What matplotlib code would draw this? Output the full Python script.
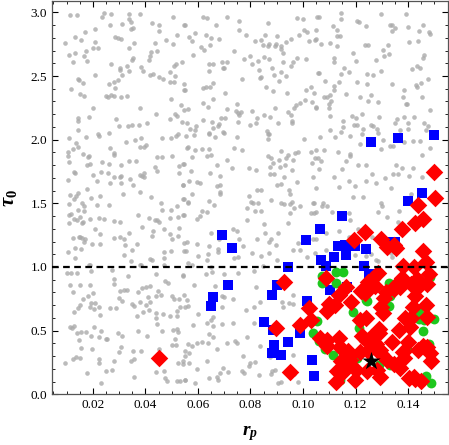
import numpy as np
import matplotlib
matplotlib.use("Agg")
import matplotlib.pyplot as plt
from matplotlib.ticker import MultipleLocator

plt.rcParams['font.family'] = ['Liberation Serif', 'DejaVu Serif']
plt.rcParams['mathtext.fontset'] = 'custom'
plt.rcParams['mathtext.it'] = 'Liberation Serif:italic:bold'
plt.rcParams['mathtext.rm'] = 'Liberation Serif:bold'

# background sample (r_p, tau_0)
gray_points = [
    # top left
    (0.0114,2.980),(0.0140,2.980),(0.0244,2.995),(0.0235,2.960),(0.0269,2.985),(0.0339,2.985),(0.0378,2.985),
    (0.0339,2.948),(0.0345,2.927),(0.0507,2.960),(0.0267,2.900),(0.0311,2.910),(0.0424,2.920),(0.0452,2.900),
    (0.0546,2.900),(0.0208,2.867),(0.0352,2.880),(0.0345,2.867),(0.0451,2.856),(0.0170,2.846),(0.0131,2.807),
    (0.0154,2.786),(0.0286,2.804),(0.0297,2.796),(0.0308,2.793),(0.0519,2.825),(0.0480,2.786),(0.0095,2.760),
    (0.0208,2.770),(0.0358,2.757),(0.0436,2.760),(0.0504,2.750),(0.0199,2.723),(0.0221,2.718),(0.0339,2.723),
    (0.0173,2.697),(0.0131,2.680),(0.0108,2.665),(0.0423,2.690),(0.0444,2.697),(0.0166,2.655),(0.0419,2.657),
    (0.0353,2.644),(0.0348,2.628),(0.0176,2.618),(0.0126,2.610),(0.0415,2.623),(0.0268,2.594),(0.0540,2.613),
    (0.0516,2.594),(0.0508,2.580),(0.0331,2.580),(0.0383,2.573),(0.0303,2.560),(0.0305,2.550),(0.0338,2.540),
    (0.0392,2.542),(0.0495,2.530),(0.0416,2.510),(0.0429,2.513),(0.0209,2.510),(0.0310,2.505),(0.0513,2.503),
    (0.0143,2.480),(0.0148,2.468),(0.0162,2.448),(0.0297,2.471),(0.0279,2.455),(0.0452,2.492),(0.0466,2.480),
    (0.0263,2.437),(0.0493,2.453),(0.0510,2.455),(0.0546,2.434),(0.0286,2.408),(0.0118,2.395),(0.0546,2.393),
    (0.0152,2.358),(0.0166,2.345),(0.0249,2.345),(0.0258,2.335),(0.0270,2.348),(0.0281,2.343),(0.0307,2.335),
    (0.0329,2.345),(0.0499,2.322),(0.0201,2.246),(0.0380,2.246),(0.0537,2.272),(0.0546,2.233),(0.0442,2.199),
    (0.0512,2.199),(0.0522,2.183),(0.0184,2.175),(0.0145,2.167),(0.0145,2.146),(0.0287,2.165),(0.0495,2.165),
    (0.0541,2.138),(0.0300,2.110),(0.0335,2.110),(0.0350,2.117),(0.0377,2.117),(0.0408,2.130),(0.0142,2.078),
    (0.0220,2.042),(0.0262,2.055),(0.0526,2.047),
    # top middle
    (0.0552,2.898),(0.0620,2.966),(0.0635,2.956),(0.0709,2.966),(0.0755,2.935),(0.0668,2.898),(0.0868,2.917),
    (0.0978,2.959),(0.0999,2.950),(0.1052,2.966),(0.0755,2.862),(0.1004,2.864),(0.1014,2.846),(0.1048,2.862),
    (0.0587,2.835),(0.0567,2.804),(0.0576,2.775),(0.0629,2.822),(0.0651,2.800),(0.0680,2.793),(0.0782,2.820),
    (0.0854,2.820),(0.0901,2.814),(0.0986,2.820),(0.0817,2.772),(0.0840,2.786),(0.0849,2.746),(0.0867,2.733),
    (0.0872,2.752),(0.0895,2.733),(0.0898,2.752),(0.0917,2.733),(0.0917,2.715),(0.0934,2.767),(0.0953,2.790),
    (0.1023,2.772),(0.1047,2.780),(0.0611,2.730),(0.0625,2.702),(0.0646,2.746),(0.0738,2.700),(0.0922,2.681),
    (0.0582,2.668),(0.0798,2.660),(0.0776,2.636),(0.0851,2.650),(0.0870,2.631),(0.0830,2.620),(0.0978,2.644),
    (0.1011,2.634),(0.0963,2.613),(0.0641,2.594),(0.0658,2.594),(0.0690,2.610),(0.0712,2.610),(0.0806,2.594),
    (0.0925,2.607),(0.0953,2.576),(0.0694,2.566),(0.0699,2.560),(0.0882,2.560),(0.0832,2.547),(0.0644,2.542),
    (0.0915,2.534),(0.0891,2.505),(0.0936,2.503),(0.0839,2.492),(0.0836,2.482),(0.1060,2.524),(0.0766,2.476),
    (0.0910,2.458),(0.0656,2.448),(0.0552,2.390),(0.0620,2.406),(0.0632,2.410),(0.0646,2.416),(0.0859,2.416),
    (0.1030,2.410),(0.1010,2.387),(0.0887,2.380),(0.0938,2.364),(0.0704,2.364),(0.0656,2.320),(0.1008,2.311),
    (0.0620,2.285),(0.0638,2.256),(0.0988,2.288),(0.0972,2.270),(0.1033,2.293),(0.0747,2.280),(0.0709,2.243),
    (0.1049,2.248),(0.0564,2.240),(0.0743,2.222),(0.0754,2.209),(0.0765,2.214),(0.0757,2.191),(0.0807,2.228),
    (0.0943,2.217),(0.0953,2.191),(0.0967,2.248),(0.0892,2.251),(0.0850,2.191),(0.0874,2.175),(0.0825,2.167),
    (0.0704,2.173),(0.0688,2.167),(0.0620,2.154),(0.0751,2.141),(0.0821,2.128),(0.0798,2.115),(0.0653,2.138),
    (0.0679,2.123),(0.0658,2.094),(0.0675,2.110),(0.0957,2.146),(0.0957,2.130),(0.0906,2.130),(0.0557,2.133),
    (0.0592,2.107),(0.0571,2.086),(0.0590,2.073),(0.0696,2.060),(0.0643,2.050),(0.0864,2.070),(0.0869,2.047),
    # top right
    (0.1060,2.966),(0.1146,2.993),(0.1146,2.948),(0.1296,2.985),(0.1393,2.985),(0.1114,2.893),(0.1131,2.862),
    (0.1131,2.817),(0.1139,2.814),(0.1207,2.932),(0.1213,2.922),(0.1239,2.896),(0.1330,2.900),(0.1339,2.900),
    (0.1349,2.875),(0.1339,2.851),(0.1401,2.888),(0.1455,2.900),(0.1441,2.854),(0.1481,2.846),(0.1483,2.828),
    (0.1048,2.791),(0.1069,2.749),(0.1104,2.757),(0.1128,2.738),(0.1234,2.741),(0.1249,2.744),(0.1323,2.741),
    (0.1304,2.707),(0.1405,2.767),(0.1437,2.778),(0.1189,2.681),(0.1202,2.620),(0.1117,2.642),(0.1118,2.610),
    (0.1307,2.660),(0.1326,2.676),(0.1277,2.628),(0.1462,2.662),(0.1457,2.642),(0.1433,2.581),(0.1414,2.555),
    (0.1446,2.560),(0.1154,2.563),(0.1174,2.529),(0.1144,2.518),(0.1057,2.526),(0.1244,2.518),(0.1266,2.505),
    (0.1296,2.542),(0.1474,2.476),(0.1085,2.463),(0.1135,2.453),(0.1206,2.453),(0.1245,2.440),(0.1338,2.440),
    (0.1431,2.432),(0.1450,2.442),(0.1433,2.416),(0.1118,2.419),(0.1118,2.393),(0.1385,2.393),(0.1042,2.364),
    (0.1164,2.361),(0.1257,2.353),(0.1080,2.332),(0.1090,2.332),(0.1102,2.348),(0.1216,2.335),(0.1380,2.332),
    (0.1451,2.338),(0.1108,2.304),(0.1249,2.301),(0.1287,2.296),(0.1390,2.283),(0.1397,2.277),(0.1098,2.277),
    (0.1100,2.248),(0.1048,2.254),(0.1485,2.235),(0.1103,2.186),(0.1187,2.188),(0.1203,2.170),(0.1226,2.199),
    (0.1288,2.178),(0.1357,2.165),(0.1384,2.180),(0.1423,2.180),(0.1152,2.146),(0.1194,2.117),(0.1207,2.115),
    (0.1260,2.117),(0.1267,2.110),(0.1351,2.128),(0.1400,2.133),(0.1461,2.130),(0.1474,2.110),(0.1152,2.102),
    (0.1102,2.078),(0.1145,2.062),(0.1230,2.083),(0.1281,2.083),(0.1368,2.078),(0.1401,2.083),(0.1469,2.073),
    # middle left
    (0.0109,2.012),(0.0175,2.020),(0.0222,2.030),(0.0328,1.978),(0.0359,1.994),(0.0383,2.015),(0.0465,2.015),
    (0.0498,2.012),(0.0516,2.030),(0.0136,1.975),(0.0126,1.923),(0.0142,1.939),(0.0104,1.905),(0.0105,1.871),
    (0.0110,1.821),(0.0267,1.936),(0.0279,1.897),(0.0282,1.881),(0.0378,1.941),(0.0394,1.941),(0.0404,1.957),
    (0.0164,1.884),(0.0180,1.865),(0.0187,1.871),(0.0179,1.800),(0.0190,1.810),(0.0235,1.826),(0.0260,1.810),
    (0.0309,1.800),(0.0339,1.831),(0.0366,1.829),(0.0443,1.860),(0.0465,1.860),(0.0503,1.871),(0.0527,1.792),
    (0.0546,1.805),(0.0436,1.784),(0.0444,1.750),(0.0529,1.737),(0.0129,1.747),(0.0131,1.742),(0.0199,1.726),
    (0.0232,1.747),(0.0258,1.740),(0.0279,1.705),(0.0305,1.705),(0.0308,1.713),(0.0104,1.687),(0.0215,1.674),
    (0.0264,1.661),(0.0307,1.656),(0.0342,1.690),(0.0353,1.645),(0.0378,1.726),(0.0386,1.713),(0.0395,1.737),
    (0.0396,1.705),(0.0545,1.640),(0.0178,1.614),(0.0115,1.567),(0.0142,1.582),(0.0136,1.561),(0.0128,1.535),
    (0.0192,1.540),(0.0226,1.554),(0.0315,1.577),(0.0378,1.590),(0.0421,1.548),(0.0546,1.530),(0.0109,1.491),
    (0.0157,1.499),(0.0165,1.478),(0.0145,1.451),(0.0216,1.486),(0.0263,1.488),(0.0460,1.504),(0.0465,1.449),
    (0.0496,1.451),(0.0522,1.475),(0.0108,1.412),(0.0118,1.417),(0.0127,1.373),(0.0140,1.370),(0.0110,1.344),
    (0.0151,1.391),(0.0165,1.438),(0.0159,1.344),(0.0162,1.354),(0.0190,1.373),(0.0225,1.386),(0.0241,1.373),
    (0.0282,1.362),(0.0305,1.354),(0.0371,1.407),(0.0414,1.383),(0.0436,1.368),(0.0446,1.370),(0.0453,1.352),
    (0.0494,1.381),(0.0526,1.396),(0.0546,1.409),(0.0208,1.299),(0.0227,1.258),(0.0389,1.310),(0.0430,1.284),
    (0.0424,1.247),(0.0470,1.302),(0.0529,1.307),(0.0494,1.255),(0.0503,1.216),(0.0524,1.245),(0.0546,1.190),
    (0.0124,1.231),(0.0147,1.239),(0.0151,1.234),(0.0159,1.231),(0.0171,1.216),(0.0165,1.195),(0.0195,1.182),
    (0.0229,1.179),(0.0279,1.226),(0.0303,1.239),(0.0320,1.216),(0.0336,1.263),(0.0321,1.174),(0.0369,1.179),
    (0.0104,1.116),(0.0133,1.148),(0.0154,1.140),(0.0132,1.072),(0.0350,1.134),(0.0320,1.095),(0.0470,1.121),
    (0.0498,1.124),(0.0547,1.127),(0.0470,1.072),(0.0419,1.064),(0.0427,1.051),(0.0344,1.043),(0.0383,1.019),
    (0.0185,1.019),(0.0469,1.014),
    # middle centre
    (0.0554,2.028),(0.0586,2.036),(0.0644,2.044),(0.0665,2.023),(0.0698,2.051),(0.0747,2.023),(0.0865,2.044),
    (0.0865,2.007),(0.1002,2.007),(0.0562,1.941),(0.0559,1.931),(0.0587,1.915),(0.0614,1.923),(0.0642,1.928),
    (0.0738,1.931),(0.0769,1.920),(0.0916,1.910),(0.0944,1.881),(0.0971,1.892),(0.0982,1.905),(0.1030,1.902),
    (0.1051,1.920),(0.0578,1.865),(0.0633,1.873),(0.0649,1.878),(0.0712,1.844),(0.0867,1.871),(0.0877,1.855),
    (0.0910,1.839),(0.0936,1.852),(0.0961,1.844),(0.0544,1.805),(0.0671,1.797),(0.0728,1.774),(0.0794,1.779),
    (0.0822,1.761),(0.0887,1.813),(0.0873,1.782),(0.0914,1.782),(0.0932,1.797),(0.0957,1.761),(0.1033,1.818),
    (0.0572,1.753),(0.0646,1.740),(0.0684,1.711),(0.0874,1.732),(0.0889,1.729),(0.0928,1.708),(0.1037,1.703),
    (0.0567,1.674),(0.0597,1.671),(0.0608,1.656),(0.0544,1.640),(0.0671,1.635),(0.0684,1.643),(0.0900,1.640),
    (0.0916,1.648),(0.0977,1.666),(0.0578,1.572),(0.0684,1.588),(0.0684,1.575),(0.0825,1.603),(0.0841,1.603),
    (0.0945,1.603),(0.0950,1.575),(0.0795,1.554),(0.0802,1.509),(0.0809,1.499),(0.0828,1.504),(0.0878,1.527),
    (0.0915,1.499),(0.0926,1.493),(0.0950,1.491),(0.0958,1.514),(0.0988,1.475),(0.1039,1.506),(0.0544,1.530),
    (0.0562,1.514),(0.0564,1.501),(0.0641,1.522),(0.0661,1.486),(0.0615,1.438),(0.0608,1.404),(0.0595,1.375),
    (0.0633,1.433),(0.0544,1.410),(0.0787,1.467),(0.0817,1.441),(0.0841,1.441),(0.0964,1.462),(0.0949,1.425),
    (0.1029,1.420),(0.1041,1.420),(0.0785,1.370),(0.0853,1.339),(0.0944,1.344),(0.0648,1.268),(0.0732,1.297),
    (0.0750,1.281),(0.0856,1.268),(0.0906,1.265),(0.1053,1.292),(0.0557,1.195),(0.0597,1.184),(0.0642,1.168),
    (0.0679,1.216),(0.0755,1.216),(0.0773,1.168),(0.0823,1.216),(0.0878,1.221),(0.0872,1.195),(0.0897,1.171),
    (0.0982,1.192),(0.1039,1.216),(0.0554,1.124),(0.0601,1.090),(0.0638,1.098),(0.0634,1.051),(0.0675,1.140),
    (0.0677,1.119),(0.0738,1.069),(0.0751,1.079),(0.0804,1.106),(0.0840,1.090),(0.0872,1.111),(0.0962,1.132),
    (0.0988,1.137),(0.1016,1.079),(0.0902,1.053),(0.0648,1.001),(0.0563,1.032),
    # middle right
    (0.1064,2.017),(0.1122,2.017),(0.1177,2.025),(0.1226,2.044),(0.1285,2.049),(0.1306,2.000),(0.1332,1.952),
    (0.1344,1.952),(0.1385,1.981),(0.1419,1.986),(0.1446,1.986),(0.1215,1.968),(0.1296,1.928),(0.1081,1.915),
    (0.1132,1.902),(0.1180,1.886),(0.1179,1.873),(0.1483,1.936),(0.1453,1.878),(0.1056,1.852),(0.1045,1.857),
    (0.1070,1.831),(0.1165,1.829),(0.1150,1.768),(0.1211,1.803),(0.1241,1.803),(0.1352,1.800),(0.1375,1.779),
    (0.1420,1.774),(0.1059,1.766),(0.1264,1.732),(0.1344,1.732),(0.1360,1.729),(0.1404,1.713),(0.1452,1.703),
    (0.1116,1.705),(0.1313,1.695),(0.1173,1.677),(0.1239,1.679),(0.1197,1.635),(0.1277,1.656),(0.1048,1.624),
    (0.1138,1.627),(0.1334,1.619),(0.1410,1.577),(0.1192,1.546),(0.1230,1.551),(0.1296,1.499),(0.1301,1.478),
    (0.1043,1.504),(0.1075,1.504),(0.1093,1.480),(0.1072,1.478),(0.1048,1.430),(0.1111,1.428),(0.1175,1.420),
    (0.1285,1.433),(0.1367,1.441),(0.1321,1.389),(0.1360,1.352),(0.1178,1.365),(0.1208,1.299),(0.1137,1.284),
    (0.1086,1.263),(0.1174,1.234),(0.1264,1.234),(0.1048,1.216),(0.1089,1.132),(0.1334,1.111),(0.1338,1.077),
    (0.1045,1.113),(0.1199,1.093),(0.1258,1.098),(0.1239,1.085),(0.1276,1.053),(0.1286,1.045),
    # bottom left
    (0.0102,0.954),(0.0117,0.954),(0.0140,0.954),(0.0188,1.019),(0.0193,0.972),(0.0273,0.980),(0.0333,0.927),
    (0.0381,1.019),(0.0439,0.941),(0.0476,0.888),(0.0486,0.875),(0.0543,0.927),(0.0112,0.862),(0.0152,0.862),
    (0.0190,0.857),(0.0279,0.867),(0.0279,0.906),(0.0124,0.807),(0.0180,0.770),(0.0161,0.747),(0.0201,0.796),
    (0.0305,0.815),(0.0320,0.820),(0.0329,0.820),(0.0386,0.838),(0.0402,0.843),(0.0416,0.849),(0.0371,0.807),
    (0.0447,0.815),(0.0460,0.778),(0.0442,0.770),(0.0411,0.765),(0.0502,0.770),(0.0508,0.752),(0.0546,0.781),
    (0.0529,0.749),(0.0301,0.757),(0.0311,0.731),(0.0152,0.702),(0.0193,0.715),(0.0209,0.715),(0.0188,0.684),
    (0.0206,0.666),(0.0225,0.684),(0.0142,0.679),(0.0129,0.650),(0.0226,0.623),(0.0267,0.679),(0.0289,0.676),
    (0.0349,0.710),(0.0358,0.692),(0.0381,0.723),(0.0404,0.705),(0.0419,0.723),(0.0415,0.663),(0.0368,0.613),
    (0.0390,0.650),(0.0442,0.639),(0.0442,0.600),(0.0467,0.631),(0.0495,0.613),(0.0522,0.618),(0.0520,0.652),
    (0.0533,0.684),(0.0114,0.532),(0.0127,0.537),(0.0119,0.524),(0.0140,0.479),(0.0154,0.487),(0.0175,0.492),
    (0.0203,0.532),(0.0232,0.500),(0.0194,0.456),(0.0222,0.453),(0.0251,0.432),(0.0255,0.437),(0.0297,0.479),
    (0.0311,0.461),(0.0371,0.498),(0.0406,0.459),(0.0463,0.500),(0.0444,0.553),(0.0504,0.506),(0.0520,0.511),
    (0.0524,0.487),(0.0512,0.435),(0.0502,0.388),(0.0518,0.388),(0.0147,0.427),(0.0156,0.362),(0.0195,0.354),
    (0.0307,0.375),(0.0300,0.330),(0.0354,0.338),(0.0385,0.341),(0.0451,0.356),(0.0095,0.244),(0.0123,0.275),
    (0.0137,0.291),(0.0150,0.283),(0.0223,0.275),(0.0222,0.244),(0.0279,0.265),(0.0345,0.262),(0.0356,0.280),
    (0.0523,0.244),(0.0542,0.259),(0.0178,0.170),(0.0251,0.181),(0.0273,0.189),(0.0356,0.139),(0.0441,0.176),
    (0.0472,0.186),(0.0476,0.126),(0.0483,0.107),(0.0521,0.107),(0.0531,0.102),(0.0549,0.115),(0.0231,0.089),
    # bottom centre
    (0.0544,0.938),(0.0629,0.941),(0.0654,0.964),(0.0699,0.946),(0.0754,0.954),(0.0815,0.972),(0.0849,1.011),
    (0.0578,1.014),(0.0586,0.859),(0.0666,0.851),(0.0820,0.846),(0.0557,0.744),(0.0550,0.689),(0.0563,0.692),
    (0.0599,0.631),(0.0690,0.773),(0.0699,0.762),(0.0691,0.689),(0.0732,0.749),(0.0784,0.663),(0.0815,0.684),
    (0.0838,0.723),(0.0921,0.728),(0.0925,0.684),(0.0948,0.720),(0.0963,0.781),(0.0963,0.710),(0.0658,0.605),
    (0.0649,0.584),(0.0580,0.548),(0.0635,0.563),(0.0658,0.537),(0.0693,0.553),(0.0735,0.558),(0.0812,0.558),
    (0.0643,0.472),(0.0658,0.453),(0.0639,0.401),(0.0595,0.403),(0.0614,0.414),(0.0576,0.380),(0.0561,0.396),
    (0.0567,0.322),(0.0549,0.338),(0.0550,0.301),(0.0709,0.406),(0.0741,0.417),(0.0747,0.406),(0.0786,0.448),
    (0.0836,0.383),(0.0770,0.301),(0.0672,0.354),(0.0635,0.259),(0.0567,0.246),(0.0544,0.238),(0.0595,0.202),
    (0.0696,0.204),(0.0715,0.176),(0.0684,0.170),(0.0671,0.136),(0.0642,0.131),(0.0676,0.115),(0.0590,0.092),
    (0.0549,0.115),(0.0766,0.186),(0.0776,0.170),(0.0798,0.246),(0.0795,0.223),(0.0816,0.257),(0.0834,0.152),
    (0.0877,0.160),(0.0882,0.181),(0.0893,0.191),(0.0874,0.296),(0.0905,0.089),(0.0916,0.094),(0.0982,0.094),
    (0.0966,0.160),(0.0963,0.309),
]

blue_points = [
    (0.1499,2.033),(0.1258,1.983),(0.1361,2.012),(0.1452,1.582),(0.1398,1.520),(0.1147,1.402),(0.1065,1.300),
    (0.1160,1.176),(0.1134,1.161),(0.1196,1.168),(0.1240,1.142),(0.1164,1.095),(0.1118,1.079),(0.1067,1.056),
    (0.1088,1.006),(0.1231,1.011),(0.1317,1.195),(0.1351,1.195),(0.0691,1.250),(0.0728,1.148),(0.1011,1.210),
    (0.0944,1.000),(0.0713,0.857),(0.0900,0.859),(0.0656,0.762),(0.0648,0.694),(0.0881,0.778),(0.1014,0.731),
    (0.0853,0.566),(0.0887,0.508),(0.0988,0.485),(0.0943,0.414),(0.0888,0.388),(0.0883,0.322),(0.0915,0.306),
    (0.1034,0.272),(0.1043,0.141),(0.1103,0.820),(0.1169,0.846),(0.1438,0.658),(0.1250,0.943),
]

green_points = [
    (0.1072,0.932),(0.1072,0.872),(0.1126,0.959),(0.1152,0.964),(0.1126,0.872),(0.1328,0.872),(0.1485,0.925),
    (0.1243,0.733),(0.1190,0.644),(0.1091,0.649),(0.1055,0.576),(0.1037,0.479),(0.1082,0.356),(0.1114,0.309),
    (0.1205,0.283),(0.1289,0.230),(0.1330,0.230),(0.1142,0.113),(0.1459,0.584),(0.1497,0.589),(0.1457,0.500),
    (0.1468,0.144),(0.1488,0.091),(0.1214,0.521),(0.1332,0.775),(0.1440,0.637),(0.1396,0.354),(0.1239,0.741),
    (0.1480,0.396),(0.1328,0.697),(0.1442,0.592),(0.1061,0.416),
]

red_points = [
    (0.0451,0.283),(0.0896,0.519),(0.0928,0.885),(0.0949,0.178),
    (0.1497,1.745),(0.1501,1.540),(0.1439,1.488),(0.1455,1.375),(0.1427,1.344),(0.1377,1.297),(0.1234,1.278),
    (0.1195,1.215),(0.1298,1.221),(0.1319,1.153),(0.1345,1.174),(0.1353,1.150),(0.1457,1.126),(0.1468,1.037),
    (0.1380,1.011),(0.1421,1.003),(0.1285,0.956),(0.1262,0.906),(0.1246,0.885),(0.1275,0.854),(0.1377,0.917),
    (0.1370,0.846),(0.1434,0.904),(0.1472,0.867),(0.1446,0.859),(0.1222,0.812),(0.1237,0.799),(0.1316,0.807),
    (0.1308,0.754),(0.1349,0.854),(0.1135,0.781),(0.1183,0.723),(0.1097,0.707),(0.1120,0.702),(0.1091,0.658),
    (0.1021,0.676),(0.1298,0.689),(0.1304,0.637),(0.1427,0.768),(0.1418,0.689),(0.1468,0.702),(0.1387,0.603),
    (0.1411,0.597),(0.1472,0.610),(0.1215,0.584),(0.1241,0.597),(0.0989,0.548),(0.1030,0.584),(0.1288,0.513),
    (0.1289,0.479),(0.1364,0.505),(0.1408,0.532),(0.1065,0.440),(0.1091,0.427),(0.1135,0.440),(0.1142,0.374),
    (0.1170,0.340),(0.1177,0.270),(0.1161,0.217),(0.1218,0.335),(0.1246,0.343),(0.1243,0.421),(0.1258,0.453),
    (0.1294,0.348),(0.1338,0.414),(0.1399,0.414),(0.1436,0.348),(0.1472,0.374),(0.1485,0.322),(0.1383,0.283),
    (0.1368,0.204),(0.1402,0.126),(0.1427,0.118),(0.1319,0.270),(0.1281,0.191),(0.1294,0.139),(0.1199,0.113),
    (0.1126,0.100),(0.1148,0.165),(0.1086,0.914),(0.1163,0.846),(0.1245,0.828),(0.1347,0.828),(0.1410,0.867),
    (0.1480,0.946),(0.1226,0.461),(0.1093,0.383),(0.1175,0.304),(0.1144,0.265),(0.1169,0.212),(0.1131,0.186),
    (0.1201,0.191),(0.1277,0.396),(0.1296,0.317),(0.1245,0.186),(0.1347,0.238),(0.1379,0.330),(0.1423,0.134),
    (0.1455,0.383),(0.1486,0.265),(0.1448,0.107),
]

best_fit = (0.1258, 0.259)
tau_cut = 1.0

fig = plt.figure(figsize=(4.49, 4.45), dpi=100)
ax = fig.add_axes([0.116, 0.114, 0.882, 0.884])

gx, gy = zip(*gray_points)
ax.scatter(gx, gy, s=11, color='#aaaaaa', alpha=0.8, linewidths=0, zorder=1)

bx, by = zip(*blue_points)
ax.scatter(bx, by, s=42, marker='s', color='#0000ff', linewidths=0, zorder=2)

cx, cy = zip(*green_points)
ax.scatter(cx, cy, s=50, marker='o', color='#1ec81e', linewidths=0, zorder=3)

rx, ry = zip(*red_points)
ax.scatter(rx, ry, s=80, marker='D', color='#ff0000', linewidths=0, zorder=4)

ax.scatter([best_fit[0]], [best_fit[1]], s=190, marker='*', color='black', linewidths=0, zorder=5)

ax.axhline(tau_cut, color='black', lw=1.6, ls=(0, (3, 2)), zorder=6)

ax.set_xlim(0.0045, 0.1552)
ax.set_ylim(0.0, 3.09)
ax.xaxis.set_major_locator(MultipleLocator(0.02))
ax.xaxis.set_minor_locator(MultipleLocator(0.005))
ax.yaxis.set_major_locator(MultipleLocator(0.5))
ax.yaxis.set_minor_locator(MultipleLocator(0.1))
ax.tick_params(which='both', direction='in', top=True, right=True, labelsize=9.5)
ax.tick_params(which='major', length=4, width=0.8)
ax.tick_params(which='minor', length=2.5, width=0.6)
ax.set_xticks([0.02, 0.04, 0.06, 0.08, 0.10, 0.12, 0.14])
ax.set_xticklabels(['0.02', '0.04', '0.06', '0.08', '0.10', '0.12', '0.14'])
ax.set_yticks([0.0, 0.5, 1.0, 1.5, 2.0, 2.5, 3.0])
ax.set_yticklabels(['0.0', '0.5', '1.0', '1.5', '2.0', '2.5', '3.0'])
for sp in ax.spines.values():
    sp.set_linewidth(0.9)
    sp.set_color('#555555')

ax.set_xlabel(r'$r_p$', fontsize=14, labelpad=9)
ax.set_ylabel(r'$\tau_0$', fontsize=15, labelpad=8)

fig.savefig('out.png', dpi=100)
